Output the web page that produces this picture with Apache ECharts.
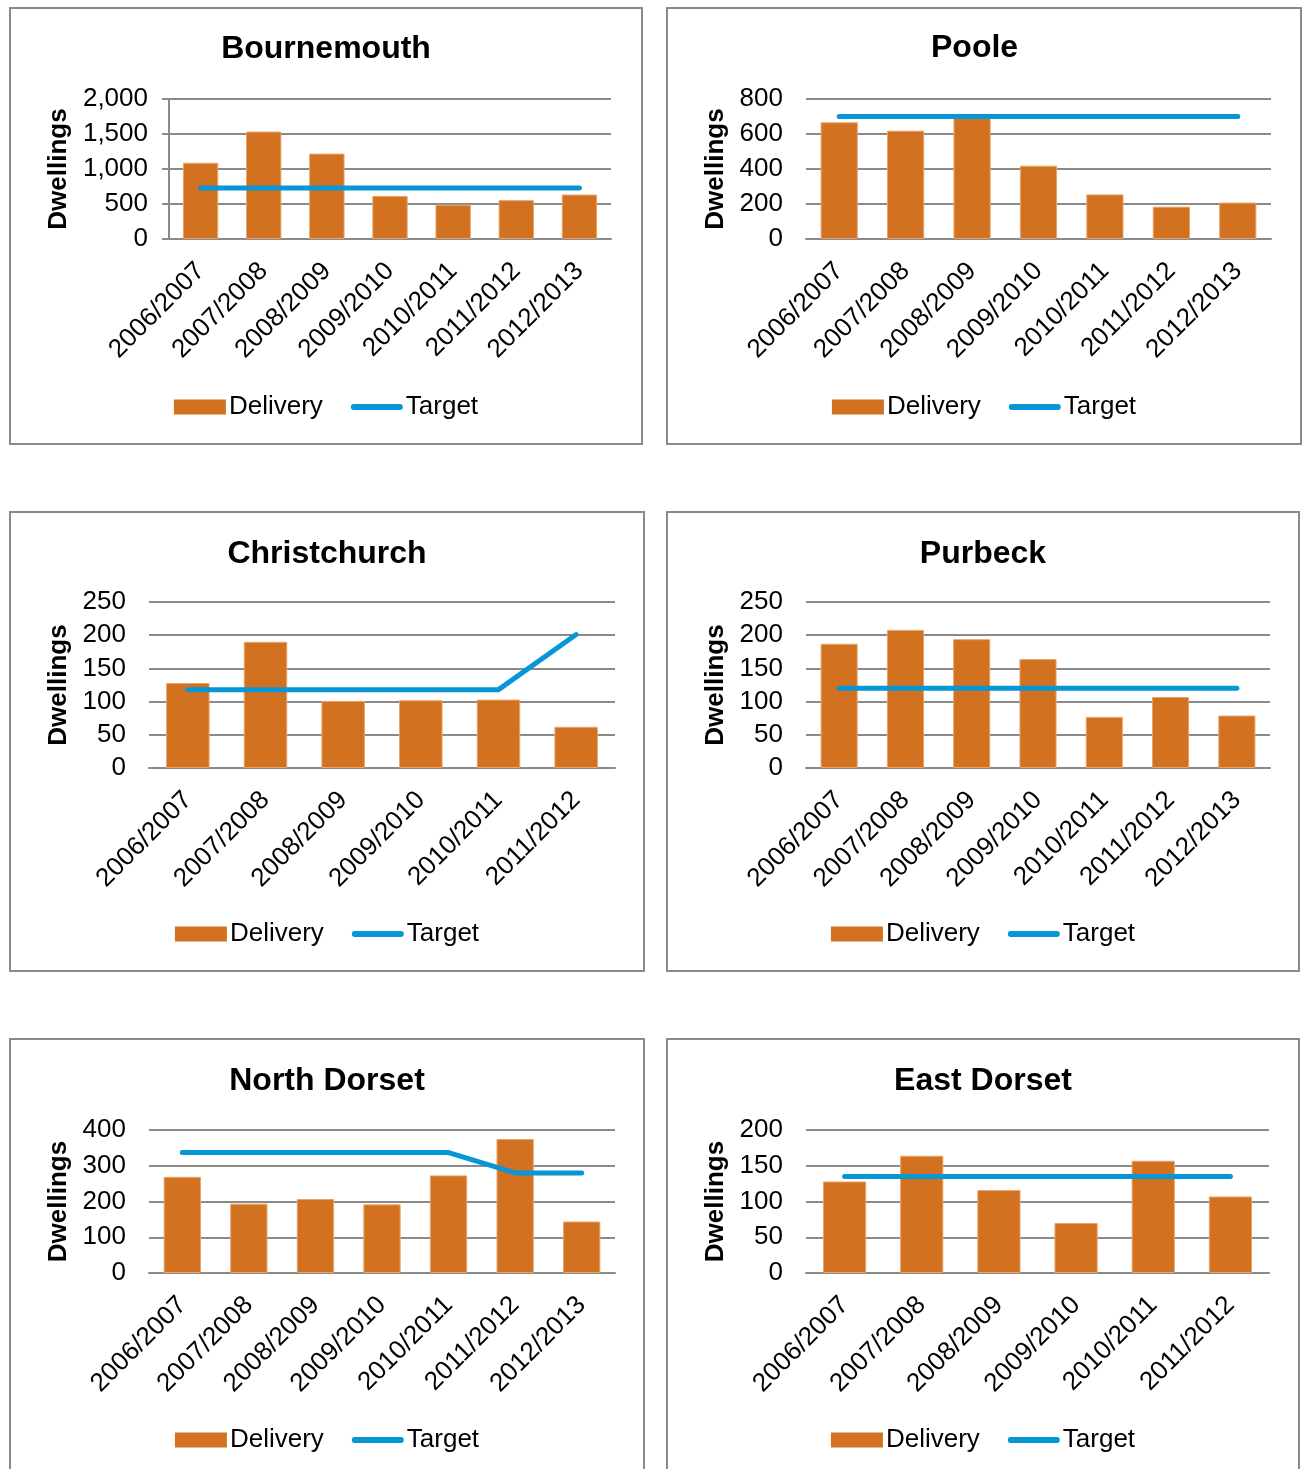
<!DOCTYPE html>
<html>
<head>
<meta charset="utf-8">
<script src="https://cdn.jsdelivr.net/npm/echarts@6/dist/echarts.min.js"></script>
<style>
  html, body { margin: 0; padding: 0; background: #fff; }
  body { width: 1306px; height: 1469px; position: relative; overflow: hidden; }
  .panel { position: absolute; box-sizing: border-box; border: 2px solid #8a8a8a; background: #fff; }
  .chart { position: absolute; left: 0; top: 0; }
</style>
</head>
<body>
<div class="panel" style="left:9px;top:7px;width:634px;height:438px"><div id="c1" class="chart" style="width:630px;height:434px"></div></div>
<div class="panel" style="left:666px;top:7px;width:636px;height:438px"><div id="c2" class="chart" style="width:632px;height:434px"></div></div>
<div class="panel" style="left:9px;top:511px;width:636px;height:461px"><div id="c3" class="chart" style="width:632px;height:457px"></div></div>
<div class="panel" style="left:666px;top:511px;width:634px;height:461px"><div id="c4" class="chart" style="width:630px;height:457px"></div></div>
<div class="panel" style="left:9px;top:1038px;width:636px;height:440px"><div id="c5" class="chart" style="width:632px;height:436px"></div></div>
<div class="panel" style="left:666px;top:1038px;width:634px;height:440px"><div id="c6" class="chart" style="width:630px;height:436px"></div></div>
<script>
// ---- data ----
const categories7 = ['2006/2007', '2007/2008', '2008/2009', '2009/2010', '2010/2011', '2011/2012', '2012/2013'];
const categories6 = ['2006/2007', '2007/2008', '2008/2009', '2009/2010', '2010/2011', '2011/2012'];

const bournemouthDelivery = [1090, 1535, 1220, 615, 490, 555, 635];
const bournemouthTarget = [730, 730, 730, 730, 730, 730, 730];

const pooleDelivery = [667, 619, 692, 419, 255, 185, 208];
const pooleTarget = [700, 700, 700, 700, 700, 700, 700];

const christchurchDelivery = [128, 190, 101, 102, 103, 62];
const christchurchTarget = [118, 118, 118, 118, 118, 201];

const purbeckDelivery = [187, 208, 194, 164, 77, 107, 79];
const purbeckTarget = [120, 120, 120, 120, 120, 120, 120];

const northDorsetDelivery = [269, 194, 207, 192, 273, 375, 144];
const northDorsetTarget = [337, 337, 337, 337, 337, 280, 280];

const eastDorsetDelivery = [128, 164, 116, 70, 157, 107];
const eastDorsetTarget = [135, 135, 135, 135, 135, 135];

const seriesNames = ['Delivery', 'Target'];

// ---- styling / layout ----
const FONT = "'Liberation Sans', Arial, sans-serif";
const BAR_COLOR = '#D2711F';
const LINE_COLOR = '#0796D6';
const GRID_COLOR = '#8a8a8a';
const LINE_ICON = 'path://M3,0 L51,0 A3,3 0 0 1 51,6 L3,6 A3,3 0 0 1 3,0 Z';

function makeOption(cfg) {
  const title = {
    text: cfg.title, top: cfg.titleTop, padding: 0,
    textStyle: { fontFamily: FONT, fontSize: 32, fontWeight: 'bold', color: '#000' }
  };
  if (cfg.titleLeft != null) title.left = cfg.titleLeft; else title.left = 'center';
  return {
    animation: false,
    textStyle: { fontFamily: FONT },
    title: title,
    legend: {
      left: 'center', top: cfg.legendTop, padding: 0,
      itemWidth: 52, itemHeight: 15, itemGap: 28,
      itemStyle: { borderWidth: 0 },
      textStyle: { fontFamily: FONT, fontSize: 26, color: '#000', padding: [0, 0, 0, -2] },
      data: [
        { name: seriesNames[0], icon: 'rect' },
        { name: seriesNames[1], icon: LINE_ICON }
      ]
    },
    grid: { left: cfg.grid[0], top: cfg.grid[1], width: cfg.grid[2], height: cfg.grid[3] },
    xAxis: {
      type: 'category', data: cfg.categories,
      axisLine: { show: true, lineStyle: { color: GRID_COLOR, width: 2 } },
      axisTick: { show: false },
      axisLabel: { rotate: 45, margin: 28, interval: 0, fontFamily: FONT, fontSize: 26, color: '#000' }
    },
    yAxis: {
      type: 'value', min: 0, max: cfg.max, interval: cfg.interval,
      name: 'Dwellings', nameLocation: 'middle', nameRotate: 90, nameGap: cfg.nameGap,
      nameTextStyle: { fontFamily: FONT, fontSize: 26, fontWeight: 'bold', color: '#000' },
      axisLine: { show: !!cfg.yLine, lineStyle: { color: GRID_COLOR, width: 2 } },
      axisTick: { show: !!cfg.yLine, length: 7, lineStyle: { color: GRID_COLOR, width: 2 } },
      splitLine: { show: true, lineStyle: { color: GRID_COLOR, width: 2 } },
      axisLabel: {
        margin: cfg.labelMargin, fontFamily: FONT, fontSize: 26, color: '#000',
        formatter: v => v.toLocaleString('en-US')
      }
    },
    series: [
      {
        name: seriesNames[0], type: 'bar', data: cfg.delivery, barWidth: '56%',
        itemStyle: { color: BAR_COLOR, borderColor: '#E9A46A', borderWidth: 1 }
      },
      {
        name: seriesNames[1], type: 'line', data: cfg.target, symbol: 'none',
        lineStyle: { color: LINE_COLOR, width: 5, cap: 'round', join: 'round' },
        itemStyle: { color: LINE_COLOR }
      }
    ]
  };
}

const configs = [
  { id: 'c1', title: 'Bournemouth', categories: categories7, delivery: bournemouthDelivery, target: bournemouthTarget,
    max: 2000, interval: 500, grid: [158, 90, 442, 140], titleTop: 24, legendTop: 385, nameGap: 94, labelMargin: 21, yLine: true },
  { id: 'c2', title: 'Poole', categories: categories7, delivery: pooleDelivery, target: pooleTarget,
    max: 800, interval: 200, grid: [138, 90, 465, 140], titleTop: 23, legendTop: 385, nameGap: 76, labelMargin: 23, titleLeft: 263 },
  { id: 'c3', title: 'Christchurch', categories: categories6, delivery: christchurchDelivery, target: christchurchTarget,
    max: 250, interval: 50, grid: [138, 89, 466, 166], titleTop: 25, legendTop: 408, nameGap: 75, labelMargin: 23 },
  { id: 'c4', title: 'Purbeck', categories: categories7, delivery: purbeckDelivery, target: purbeckTarget,
    max: 250, interval: 50, grid: [138, 89, 464, 166], titleTop: 25, legendTop: 408, nameGap: 76, labelMargin: 23 },
  { id: 'c5', title: 'North Dorset', categories: categories7, delivery: northDorsetDelivery, target: northDorsetTarget,
    max: 400, interval: 100, grid: [138, 90, 466, 143], titleTop: 25, legendTop: 387, nameGap: 75, labelMargin: 23 },
  { id: 'c6', title: 'East Dorset', categories: categories6, delivery: eastDorsetDelivery, target: eastDorsetTarget,
    max: 200, interval: 50, grid: [138, 90, 463, 143], titleTop: 25, legendTop: 387, nameGap: 76, labelMargin: 23 }
];

configs.forEach(cfg => {
  const chart = echarts.init(document.getElementById(cfg.id), null, { renderer: 'canvas' });
  chart.setOption(makeOption(cfg));
});
</script>
</body>
</html>
